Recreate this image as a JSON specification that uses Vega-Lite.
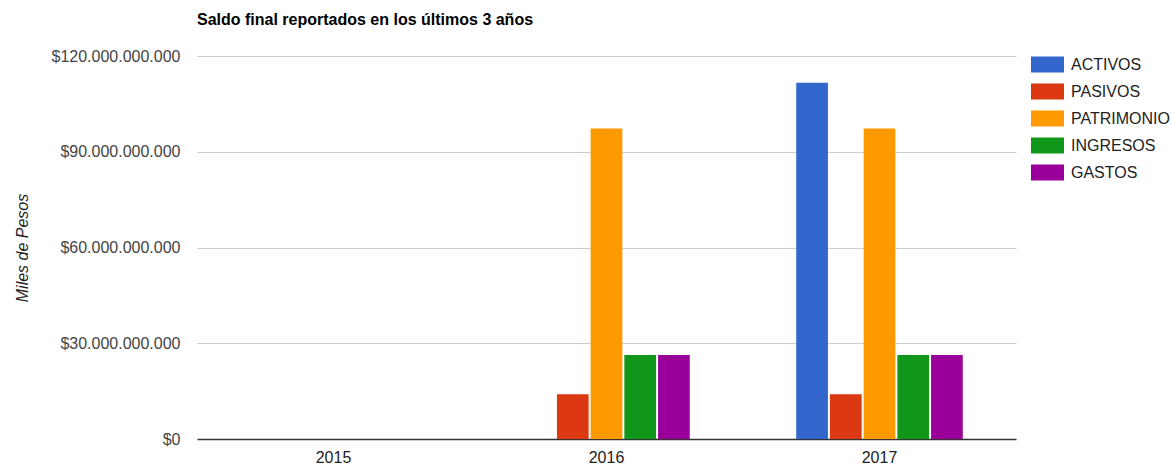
{
  "$schema": "https://vega.github.io/schema/vega-lite/v6.json",
  "width": 819,
  "height": 383,
  "padding": {"left": 14, "top": 12, "right": 0, "bottom": 0},
  "config": {
    "font": "Liberation Sans",
    "view": {"stroke": null},
    "axis": {"gridColor": "#cccccc", "gridWidth": 1, "ticks": false}
  },
  "title": {
    "text": "Saldo final reportados en los últimos 3 años",
    "anchor": "start",
    "frame": "group",
    "fontSize": 16,
    "font": "Liberation Sans",
    "fontWeight": "bold",
    "color": "#000000",
    "offset": 19.7
  },
  "data": {
    "values": [
      {"anio": "2015", "serie": "ACTIVOS", "valor": 0},
      {"anio": "2015", "serie": "PASIVOS", "valor": 0},
      {"anio": "2015", "serie": "PATRIMONIO", "valor": 0},
      {"anio": "2015", "serie": "INGRESOS", "valor": 0},
      {"anio": "2015", "serie": "GASTOS", "valor": 0},
      {"anio": "2016", "serie": "ACTIVOS", "valor": 0},
      {"anio": "2016", "serie": "PASIVOS", "valor": 14000000000},
      {"anio": "2016", "serie": "PATRIMONIO", "valor": 97300000000},
      {"anio": "2016", "serie": "INGRESOS", "valor": 26300000000},
      {"anio": "2016", "serie": "GASTOS", "valor": 26300000000},
      {"anio": "2017", "serie": "ACTIVOS", "valor": 111600000000},
      {"anio": "2017", "serie": "PASIVOS", "valor": 14000000000},
      {"anio": "2017", "serie": "PATRIMONIO", "valor": 97300000000},
      {"anio": "2017", "serie": "INGRESOS", "valor": 26300000000},
      {"anio": "2017", "serie": "GASTOS", "valor": 26300000000}
    ]
  },
  "mark": {"type": "bar"},
  "encoding": {
    "x": {
      "field": "anio",
      "type": "nominal",
      "scale": {"paddingInner": 0.39, "paddingOuter": 0.195},
      "axis": {
        "title": null,
        "labelAngle": 0,
        "grid": false,
        "domainColor": "#333333",
        "domainWidth": 1.5,
        "labelPadding": 10,
        "labelFontSize": 16,
        "labelColor": "#222222"
      }
    },
    "xOffset": {
      "field": "serie",
      "type": "nominal",
      "sort": ["ACTIVOS", "PASIVOS", "PATRIMONIO", "INGRESOS", "GASTOS"],
      "scale": {"paddingInner": 0.06}
    },
    "y": {
      "field": "valor",
      "type": "quantitative",
      "scale": {"domain": [0, 120000000000], "nice": false},
      "axis": {
        "values": [0, 30000000000, 60000000000, 90000000000, 120000000000],
        "labelExpr": "'$' + replace(format(datum.value, ',.0f'), regexp(',', 'g'), '.')",
        "domain": false,
        "labelPadding": 17,
        "labelFontSize": 16,
        "labelColor": "#444444",
        "title": "Miles de Pesos",
        "titleFontStyle": "italic",
        "titleFontWeight": "normal",
        "titleFontSize": 16,
        "titleColor": "#222222",
        "titlePadding": 20
      }
    },
    "color": {
      "field": "serie",
      "type": "nominal",
      "sort": ["ACTIVOS", "PASIVOS", "PATRIMONIO", "INGRESOS", "GASTOS"],
      "scale": {
        "domain": ["ACTIVOS", "PASIVOS", "PATRIMONIO", "INGRESOS", "GASTOS"],
        "range": ["#3366cc", "#dc3912", "#ff9900", "#109618", "#990099"]
      },
      "legend": {
        "title": null,
        "orient": "none",
        "legendX": 834,
        "legendY": -8,
        "symbolType": "M-1,-0.485H1V0.485H-1Z",
        "symbolSize": 1089,
        "symbolStrokeWidth": 0,
        "labelFontSize": 16,
        "labelColor": "#222222",
        "labelOffset": 7,
        "rowPadding": 2
      }
    }
  }
}
